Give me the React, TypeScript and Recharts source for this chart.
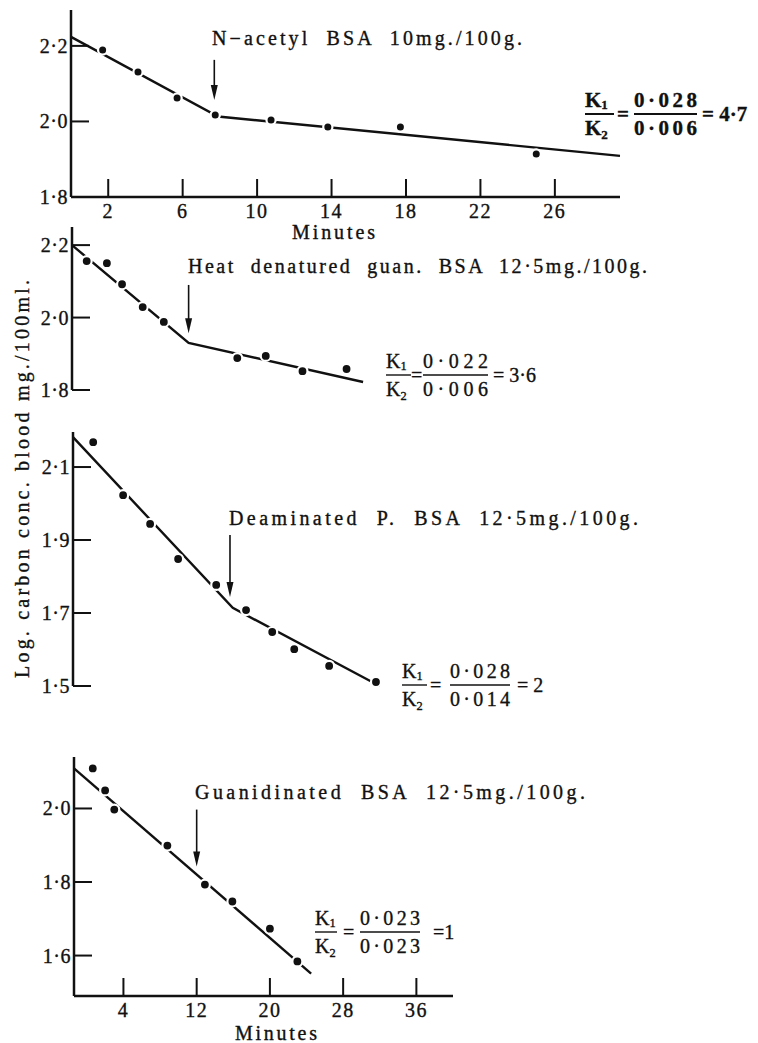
import React from 'react';
import { ComposedChart, Line, Scatter, XAxis, YAxis, ReferenceLine } from 'recharts';

const INK = '#111';
const SERIF = '"Liberation Serif", "DejaVu Serif", serif';

// N-acetyl BSA 10 mg./100 g.
const acetylMin = [1.7, 3.6, 5.7, 7.75, 10.75, 13.8, 17.7, 25.0];
const acetylLog = [2.189, 2.131, 2.062, 2.017, 2.004, 1.985, 1.985, 1.914];
const acetylFitMin = [0, 7.9, 29.5];
const acetylFitLog = [2.224, 2.013, 1.909];

// heat denatured guan. BSA 12.5 mg./100 g.
const heatMin = [0, 2.2, 3.85, 6.1, 8.4, 16.4, 19.5, 23.5, 28.3];
const heatLog = [2.156, 2.15, 2.092, 2.029, 1.988, 1.888, 1.894, 1.852, 1.858];
const heatFitMin = [-1.6, 11.1, 30.1];
const heatFitLog = [2.2, 1.93, 1.822];

// deaminated P. BSA 12.5 mg./100 g.
const deamMin = [0.7, 3.96, 6.9, 9.95, 14.1, 17.35, 20.2, 22.6, 26.4, 31.5];
const deamLog = [2.168, 2.023, 1.944, 1.848, 1.777, 1.708, 1.648, 1.601, 1.555, 1.511];
const deamFitMin = [-1.5, 15.9, 31.9];
const deamFitLog = [2.182, 1.714, 1.5];

// guanidinated BSA 12.5 mg./100 g.
const guanMin = [0.65, 2.0, 3.0, 8.8, 12.9, 15.9, 20.0, 23.0];
const guanLog = [2.109, 2.049, 1.997, 1.899, 1.793, 1.747, 1.673, 1.584];
const guanFitMin = [-1.4, 24.5];
const guanFitLog = [2.109, 1.551];

// arrows: [minute, top, tip]
const acetylArrow = [7.7, 2.163, 2.057];
const heatArrow = [11.1, 2.09, 1.957];
const deamArrow = [15.6, 1.914, 1.744];
const guanArrow = [12.0, 1.997, 1.842];

const topMinuteTicks = [2, 6, 10, 14, 18, 22, 26];
const bottomMinuteTicks = [4, 12, 20, 28, 36];
const acetylTicks = [1.8, 2.0, 2.2];
const heatTicks = [1.8, 2.0, 2.2];
const deamTicks = [1.5, 1.7, 1.9, 2.1];
const guanTicks = [1.6, 1.8, 2.0];

const toPts = (ts: number[], vs: number[]) => ts.map((t, i) => ({ t, v: vs[i] }));
const fmt = (v: number) => v.toFixed(1).replace('.', '·');

// printed type is a bit heavier than the screen font
const ink = { fill: INK, stroke: INK, strokeWidth: 0.35 };

function YTick({ x, y, payload }: any) {
  return (
    <g>
      <line x1={x} x2={x + 18} y1={y} y2={y} stroke={INK} strokeWidth={2} />
      <text x={x - 3} y={y} dy="0.35em" textAnchor="end" fontFamily={SERIF} fontSize={20} letterSpacing={0.5} {...ink}>
        {fmt(payload.value)}
      </text>
    </g>
  );
}

function XTick({ x, y, payload }: any) {
  return (
    <g>
      <line x1={x} x2={x} y1={y} y2={y - 18} stroke={INK} strokeWidth={2} />
      <text x={x} y={y + 21} textAnchor="middle" fontFamily={SERIF} fontSize={20} letterSpacing={1.5} {...ink}>
        {payload.value}
      </text>
    </g>
  );
}

function Arrow(p: any) {
  const { x1, y1, y2 } = p;
  const top = Math.min(y1, y2);
  const tip = Math.max(y1, y2);
  return (
    <g>
      <line x1={x1} x2={x1} y1={top} y2={tip - 10} stroke={INK} strokeWidth={1.6} />
      <polygon points={`${x1 - 3.5},${tip - 15} ${x1 + 3.5},${tip - 15} ${x1},${tip}`} fill={INK} />
    </g>
  );
}

type PanelProps = {
  top: number;
  height: number;
  left: number;
  right: number;
  xDomain: number[];
  yDomain: number[];
  yTicks: number[];
  xTicks?: number[];
  points: { t: number; v: number }[];
  fit: { t: number; v: number }[];
  arrow: number[];
  r: number;
};

function Panel(p: PanelProps) {
  const axis = { stroke: INK, strokeWidth: 2.5 };
  return (
    <div style={{ position: 'absolute', left: 0, top: p.top }}>
      <ComposedChart
        width={758}
        height={p.height}
        margin={{ top: 10, right: p.right, bottom: p.xTicks ? 0 : 10, left: p.left }}
      >
        <XAxis
          type="number"
          dataKey="t"
          domain={p.xDomain}
          hide={!p.xTicks}
          ticks={p.xTicks}
          interval={0}
          height={30}
          tickSize={0}
          tickMargin={0}
          tickLine={false}
          tick={XTick}
          axisLine={axis}
        />
        <YAxis
          type="number"
          dataKey="v"
          domain={p.yDomain}
          ticks={p.yTicks}
          interval={0}
          width={60}
          tickSize={0}
          tickMargin={0}
          tickLine={false}
          tick={YTick}
          axisLine={axis}
        />
        <ReferenceLine
          segment={[{ x: p.arrow[0], y: p.arrow[1] }, { x: p.arrow[0], y: p.arrow[2] }]}
          shape={Arrow}
        />
        <Line
          data={p.fit}
          dataKey="v"
          type="linear"
          stroke={INK}
          strokeWidth={2.4}
          dot={false}
          isAnimationActive={false}
        />
        <Scatter
          data={p.points}
          dataKey="v"
          isAnimationActive={false}
          shape={(s: any) => (
            <circle cx={s.cx} cy={s.cy} r={p.r} fill={INK} stroke="#fff" strokeWidth={2.2} />
          )}
        />
      </ComposedChart>
    </div>
  );
}

type RatioProps = {
  kx: number; kw: number; eqx: number; nx: number; nw: number; rx: number;
  y: number; num: string; den: string; res: string; size: number; bold?: boolean;
};

function Ratio(p: RatioProps) {
  const common = { fontFamily: SERIF, fontSize: p.size, fontWeight: p.bold ? 700 : 400, ...ink };
  const sub = p.size * 0.62;
  return (
    <g>
      <text x={p.kx} y={p.y - 7} {...common}>
        K<tspan fontSize={sub} dy={2}>1</tspan>
      </text>
      <line x1={p.kx} x2={p.kx + p.kw} y1={p.y} y2={p.y} stroke={INK} strokeWidth={p.bold ? 2 : 1.4} />
      <text x={p.kx} y={p.y + 21} {...common}>
        K<tspan fontSize={sub} dy={4}>2</tspan>
      </text>
      <text x={p.eqx} y={p.y + 7} {...common}>=</text>
      <text x={p.nx} y={p.y - 7} textLength={p.nw} lengthAdjust="spacing" {...common}>{p.num}</text>
      <line x1={p.nx} x2={p.nx + p.nw} y1={p.y} y2={p.y} stroke={INK} strokeWidth={p.bold ? 2 : 1.4} />
      <text x={p.nx} y={p.y + 21} textLength={p.nw} lengthAdjust="spacing" {...common}>{p.den}</text>
      <text x={p.rx} y={p.y + 7} {...common} style={{ whiteSpace: 'pre' }}>{p.res}</text>
    </g>
  );
}

function Label({ x, y, w, children }: { x: number; y: number; w: number; children: React.ReactNode }) {
  return (
    <text x={x} y={y} textLength={w} lengthAdjust="spacing" fontFamily={SERIF} fontSize={20} {...ink} style={{ whiteSpace: 'pre' }}>
      {children}
    </text>
  );
}

export default function App() {
  return (
    <div style={{ position: 'absolute', left: 0, top: 0, width: 758, height: 1043, background: '#fff', overflow: 'hidden' }}>
      <Panel
        top={0} height={227} left={11} right={138}
        xDomain={[0, 29.5]} yDomain={[1.8, 2.295]}
        xTicks={topMinuteTicks} yTicks={acetylTicks}
        points={toPts(acetylMin, acetylLog)} fit={toPts(acetylFitMin, acetylFitLog)}
        arrow={acetylArrow} r={4.6}
      />
      <Panel
        top={217} height={183} left={12} right={304}
        xDomain={[-1.6, 40]} yDomain={[1.8, 2.25]}
        yTicks={heatTicks}
        points={toPts(heatMin, heatLog)} fit={toPts(heatFitMin, heatFitLog)}
        arrow={heatArrow} r={5}
      />
      <Panel
        top={422} height={274} left={13} right={304}
        xDomain={[-1.5, 40]} yDomain={[1.5, 2.196]}
        yTicks={deamTicks}
        points={toPts(deamMin, deamLog)} fit={toPts(deamFitMin, deamFitLog)}
        arrow={deamArrow} r={5}
      />
      <Panel
        top={747} height={279} left={14} right={305}
        xDomain={[-1.4, 40]} yDomain={[1.49, 2.14]}
        xTicks={bottomMinuteTicks} yTicks={guanTicks}
        points={toPts(guanMin, guanLog)} fit={toPts(guanFitMin, guanFitLog)}
        arrow={guanArrow} r={5}
      />
      <svg width={758} height={1043} style={{ position: 'absolute', left: 0, top: 0, pointerEvents: 'none' }}>
        <Label x={212} y={45} w={310}>{'N−acetyl  BSA  10mg./100g.'}</Label>
        <Label x={188} y={273} w={459}>{'Heat  denatured  guan.  BSA  12·5mg./100g.'}</Label>
        <Label x={229} y={525} w={409}>{'Deaminated  P.  BSA  12·5mg./100g.'}</Label>
        <Label x={195} y={799} w={390}>{'Guanidinated  BSA  12·5mg./100g.'}</Label>
        <Label x={292} y={239} w={83}>Minutes</Label>
        <Label x={235} y={1040} w={82}>Minutes</Label>
        <text
          x={22} y={479} dy="0.35em" textAnchor="middle" transform="rotate(-90 22 479)"
          textLength={398} lengthAdjust="spacing" fontFamily={SERIF} fontSize={20} {...ink}
        >
          Log. carbon conc. blood mg./100ml.
        </text>
        <Ratio kx={585} kw={29} eqx={617} nx={634} nw={63} rx={702} y={114} num="0·028" den="0·006" res="= 4·7" size={21} bold />
        <Ratio kx={386} kw={25} eqx={411} nx={423} nw={65} rx={493} y={375} num="0·022" den="0·006" res="= 3·6" size={20} />
        <Ratio kx={402} kw={25} eqx={430} nx={450} nw={60} rx={517} y={685} num="0·028" den="0·014" res="= 2" size={20} />
        <Ratio kx={315} kw={22} eqx={343} nx={360} nw={60} rx={433} y={932} num="0·023" den="0·023" res="=1" size={20} />
      </svg>
    </div>
  );
}
